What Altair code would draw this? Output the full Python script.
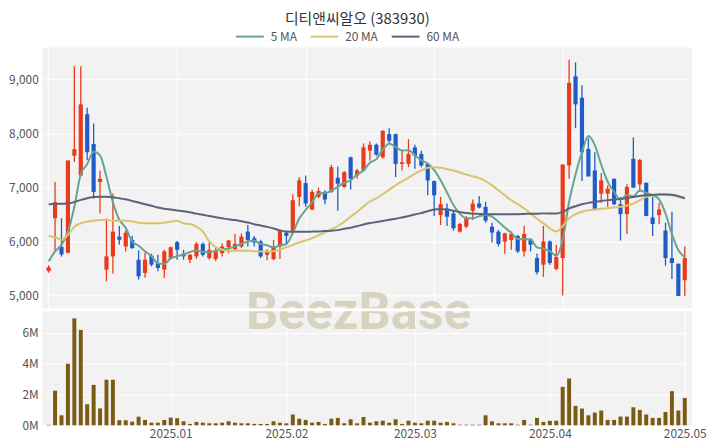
import altair as alt
import pandas as pd

title_text = "디티앤씨알오 (383930)"

opens = [5450, 6430, 5900, 5790, 7590, 7223, 8356, 7805, 7100, 5478,
         5723, 6090, 5906, 6029, 5661, 5416, 5735, 5600, 5478, 5692,
         5986, 5772, 5661, 5723, 5955, 5692, 5674, 5784, 5894, 5857,
         5906, 6182, 6060, 5998, 5753, 5674, 5906, 6164, 6182, 6825,
         7082, 6592, 6825, 6917, 6917, 7180, 7009, 7560, 7223, 7315,
         7682, 7792, 7560, 7988, 7988, 7437, 7437, 7743, 7621, 7437,
         7119, 6488, 6610, 6519, 6182, 6274, 6568, 6702, 6641, 6274,
         6182, 5998, 6029, 6102, 5815, 6041, 5692, 5569, 5998, 5490,
         5692, 7407, 9060, 8662, 7713, 7315, 6886, 6886, 7162, 6690,
         6506, 7529, 7058, 7088, 6445, 6488, 6200, 5692, 5588, 5282]
highs = [5560, 7100, 6430, 7500, 9244, 9244, 8478, 8184, 7315, 6427,
         6886, 6286, 6213, 6100, 5833, 5796, 5772, 5753, 5845, 5906,
         6010, 5845, 5772, 5986, 5980, 5998, 5906, 5968, 6029, 6139,
         6151, 6304, 6102, 6029, 5857, 6029, 6213, 6182, 6874, 7192,
         7223, 6960, 6996, 6947, 7419, 7388, 7303, 7572, 7346, 7817,
         7854, 7817, 8062, 8099, 8000, 7682, 7897, 7792, 7682, 7450,
         7131, 6825, 6702, 6580, 6347, 6470, 6776, 6843, 6733, 6347,
         6213, 6163, 6182, 6120, 6292, 6060, 5772, 6286, 6017, 5937,
         7425, 9366, 9317, 8895, 7915, 7652, 7266, 7039, 7162, 6825,
         7058, 7927, 7529, 7088, 6825, 6715, 6347, 6549, 5588, 5906]
lows = [5420, 5815, 5720, 5780, 7470, 7223, 7511, 6794, 6520, 5263,
        5404, 5937, 5815, 5863, 5294, 5325, 5539, 5447, 5325, 5661,
        5661, 5661, 5600, 5680, 5723, 5661, 5631, 5723, 5784, 5845,
        5876, 5906, 5906, 5692, 5650, 5650, 5674, 5937, 6182, 6653,
        6641, 6580, 6800, 6690, 6900, 6568, 6996, 6960, 7162, 7303,
        7499, 7590, 7530, 7805, 7192, 7315, 7376, 7346, 7376, 6855,
        6470, 6304, 6286, 6200, 6164, 6243, 6396, 6610, 6347, 5980,
        5906, 5772, 5845, 5784, 5723, 5815, 5386, 5343, 5569, 5465,
        5000, 7162, 8099, 7119, 7205, 6580, 6715, 6641, 6672, 6017,
        6139, 6996, 6917, 6470, 6102, 6323, 5551, 5306, 4988, 4988]
closes = [5520, 6730, 5760, 7500, 7710, 8540, 7652, 6917, 7160, 5723,
          6182, 6030, 6164, 5876, 5355, 5661, 5570, 5508, 5815, 5894,
          5845, 5723, 5753, 5955, 5753, 5845, 5815, 5906, 6017, 5955,
          6090, 6029, 5980, 5723, 5815, 5906, 6213, 6102, 6764, 7131,
          6702, 6917, 6935, 6776, 7376, 7070, 7284, 7162, 7315, 7743,
          7792, 7609, 8050, 7866, 7437, 7468, 7621, 7590, 7407, 7131,
          6855, 6690, 6457, 6243, 6323, 6427, 6702, 6629, 6384, 6164,
          5955, 6151, 6139, 5815, 6139, 5937, 5429, 5998, 5600, 5710,
          7425, 8938, 8540, 7652, 7205, 6580, 7131, 6978, 6690, 6506,
          7009, 6996, 7511, 6470, 6323, 6592, 5692, 5600, 4988, 5692]
volumes = [30000, 2250000, 650000, 4000000, 6950000, 6200000, 1370000, 2630000, 1100000, 2960000,
           2960000, 330000, 330000, 240000, 560000, 350000, 170000, 170000, 350000, 500000,
           460000, 260000, 90000, 220000, 170000, 130000, 130000, 170000, 260000, 170000,
           130000, 130000, 90000, 90000, 90000, 260000, 170000, 130000, 700000, 430000,
           350000, 170000, 220000, 90000, 430000, 480000, 130000, 390000, 130000, 540000,
           170000, 260000, 300000, 170000, 390000, 90000, 300000, 170000, 130000, 300000,
           300000, 170000, 220000, 130000, 40000, 40000, 40000, 40000, 650000, 260000,
           130000, 130000, 130000, 40000, 350000, 40000, 480000, 220000, 300000, 300000,
           2500000, 3040000, 1260000, 1090000, 650000, 830000, 960000, 350000, 350000, 570000,
           570000, 1170000, 1000000, 700000, 480000, 480000, 870000, 2220000, 960000, 1780000]
ma5_start = [5630, 5815, 5937, 6182]
ma20 = [6102, 6078, 6029, 6120, 6274, 6335, 6366, 6384, 6396, 6396,
        6384, 6384, 6384, 6372, 6347, 6335, 6335, 6335, 6347, 6366,
        6384, 6335, 6323, 6274, 6182, 6000, 5894, 5845, 5827, 5827,
        5827, 5827, 5820, 5815, 5815, 5820, 5845, 5894, 5937, 5980,
        6017, 6060, 6115, 6164, 6225, 6286, 6366, 6457, 6549, 6650,
        6740, 6800, 6874, 6960, 7039, 7113, 7180, 7254, 7315, 7364,
        7376, 7364, 7340, 7315, 7278, 7241, 7205, 7174, 7119, 7039,
        6947, 6855, 6764, 6690, 6610, 6519, 6420, 6335, 6243, 6182,
        6286, 6427, 6506, 6549, 6580, 6592, 6604, 6617, 6629, 6641,
        6666, 6702, 6764, 6825, 6850, 6868, 6874, 6855, 6825, 6794]
ma60 = [6690, 6693, 6697, 6702, 6730, 6770, 6800, 6825, 6828, 6828,
        6820, 6800, 6780, 6750, 6720, 6690, 6660, 6630, 6605, 6590,
        6575, 6560, 6540, 6515, 6495, 6470, 6450, 6430, 6410, 6396,
        6375, 6350, 6320, 6295, 6270, 6240, 6205, 6185, 6180, 6180,
        6180, 6182, 6185, 6192, 6198, 6210, 6235, 6255, 6280, 6315,
        6340, 6360, 6380, 6400, 6420, 6445, 6470, 6500, 6525, 6560,
        6590, 6600, 6590, 6570, 6545, 6525, 6515, 6510, 6505, 6505,
        6505, 6505, 6505, 6505, 6510, 6515, 6515, 6520, 6519, 6519,
        6549, 6610, 6653, 6690, 6715, 6733, 6751, 6764, 6776, 6788,
        6806, 6825, 6843, 6855, 6862, 6868, 6868, 6865, 6840, 6800]

month_idx = [19, 37, 57, 78, 99]
month_labels = ["2025.01", "2025.02", "2025.03", "2025.04", "2025.05"]
grid_idx = [0, 20, 40, 60, 80]
price_ticks = [5000, 6000, 7000, 8000, 9000]
vol_ticks = [0, 2000000, 4000000, 6000000]
series_names = ["5 MA", "20 MA", "60 MA"]
series_colors = ["#66a491", "#d9c36c", "#5b6378"]
watermark = ["BeezBase"]

RED = "#ea3a1c"
BLUE = "#1f5cc8"
VOLC = "#7a5b14"
FONT = "Noto Sans CJK KR"

n = len(closes)
df = pd.DataFrame({
    "i": list(range(n)), "open": opens, "high": highs, "low": lows,
    "close": closes, "vol": volumes, "ma20": ma20, "ma60": ma60,
    "ma5_start": ma5_start + [None] * (n - len(ma5_start)),
})
wm = pd.DataFrame({"t": watermark})

xs = alt.Scale(domain=[-0.23, 99.38], nice=False, zero=False)
ps = alt.Scale(domain=[4761, 9593], nice=False, zero=False)
vs = alt.Scale(domain=[0, 7410000], nice=False)

x_price = alt.X("i:Q", scale=xs,
                axis=alt.Axis(values=grid_idx, labels=False, ticks=False, domain=False,
                              grid=True, title=None))
y_axis_p = alt.Axis(values=price_ticks, labelExpr="format(datum.value, ',')", title=None,
                    labelPadding=4, minExtent=31, maxExtent=31)

candle_color = alt.condition("datum.close >= datum.open", alt.value(RED), alt.value(BLUE))

base = alt.Chart(df)

wm_price = alt.Chart(wm).mark_text(
    font="Roboto", fontSize=51, fontWeight="bold", color="#d8d3bf",
    align="center", baseline="alphabetic", clip=True
).encode(text="t:N", x=alt.value(319), y=alt.value(283))

wick = base.mark_rule(strokeWidth=1.3).encode(
    x=x_price,
    y=alt.Y("low:Q", scale=ps, axis=y_axis_p),
    y2="high:Q",
    color=candle_color,
)
body = base.mark_bar(width=4.2).encode(
    x=x_price,
    y=alt.Y("open:Q", scale=ps, axis=y_axis_p),
    y2="close:Q",
    color=candle_color,
)

label_expr_series = "datum.key == 'ma5' ? '5 MA' : datum.key == 'ma20' ? '20 MA' : '60 MA'"
lines = base.transform_window(
    ma5calc="mean(close)", frame=[-4, 0], sort=[alt.SortField("i")]
).transform_calculate(
    ma5="isValid(datum.ma5_start) ? datum.ma5_start : datum.ma5calc"
).transform_fold(
    ["ma5", "ma20", "ma60"], as_=["key", "value"]
).transform_calculate(
    series=label_expr_series
).mark_line(strokeWidth=2, interpolate="monotone").encode(
    x=x_price,
    y=alt.Y("value:Q", scale=ps, axis=y_axis_p),
    color=alt.Color("series:N", scale=alt.Scale(domain=series_names, range=series_colors),
                    legend=alt.Legend(orient="none", legendX=194.5, legendY=-26,
                                      direction="horizontal", title=None,
                                      symbolType="stroke", symbolSize=784,
                                      symbolStrokeWidth=2, labelFontSize=12,
                                      labelColor="#555555", labelFont=FONT,
                                      columnPadding=9, labelOffset=6, padding=0,
                                      gridAlign="none")),
    detail="series:N",
    order="i:Q",
)

price = alt.layer(wm_price, wick, body, lines).properties(width=655.5, height=263)

label_expr = " : ".join(f"datum.value == {i} ? '{l}'" for i, l in zip(month_idx, month_labels)) + " : ''"
x_vol = alt.X("i:Q", scale=xs,
              axis=alt.Axis(values=month_idx, labelExpr=label_expr, ticks=False, domain=False,
                            grid=True, title=None, labelFlush=False, labelPadding=3,
                            labelOverlap=False))

wm_vol = alt.Chart(wm).mark_text(
    font="Roboto", fontSize=51, fontWeight="bold", color="#d8d3bf",
    align="center", baseline="alphabetic", clip=True
).encode(text="t:N", x=alt.value(319), y=alt.value(18))

vol_bars = base.mark_bar(width=4, color=VOLC).encode(
    x=x_vol,
    y=alt.Y("vol:Q", scale=vs,
            axis=alt.Axis(values=vol_ticks, format="~s", title=None, labelPadding=4,
                          minExtent=31, maxExtent=31)),
)

volume = alt.layer(wm_vol, vol_bars).properties(width=655.5, height=115)

chart = alt.vconcat(price, volume, spacing=3).properties(
    title=alt.TitleParams(title_text, anchor="middle", fontSize=15, font=FONT,
                          fontWeight="normal", color="#333333", offset=-5),
    padding={"left": 0.5, "top": 2, "right": 5, "bottom": 5},
).configure_view(
    fill="#f2f2f2", stroke=None
).configure_axis(
    gridColor="#ffffff", gridWidth=1, labelColor="#555555", labelFontSize=12,
    labelFont=FONT, domain=False, ticks=False
)

chart.save("out.html", embed_options={"renderer": "svg", "actions": False})
